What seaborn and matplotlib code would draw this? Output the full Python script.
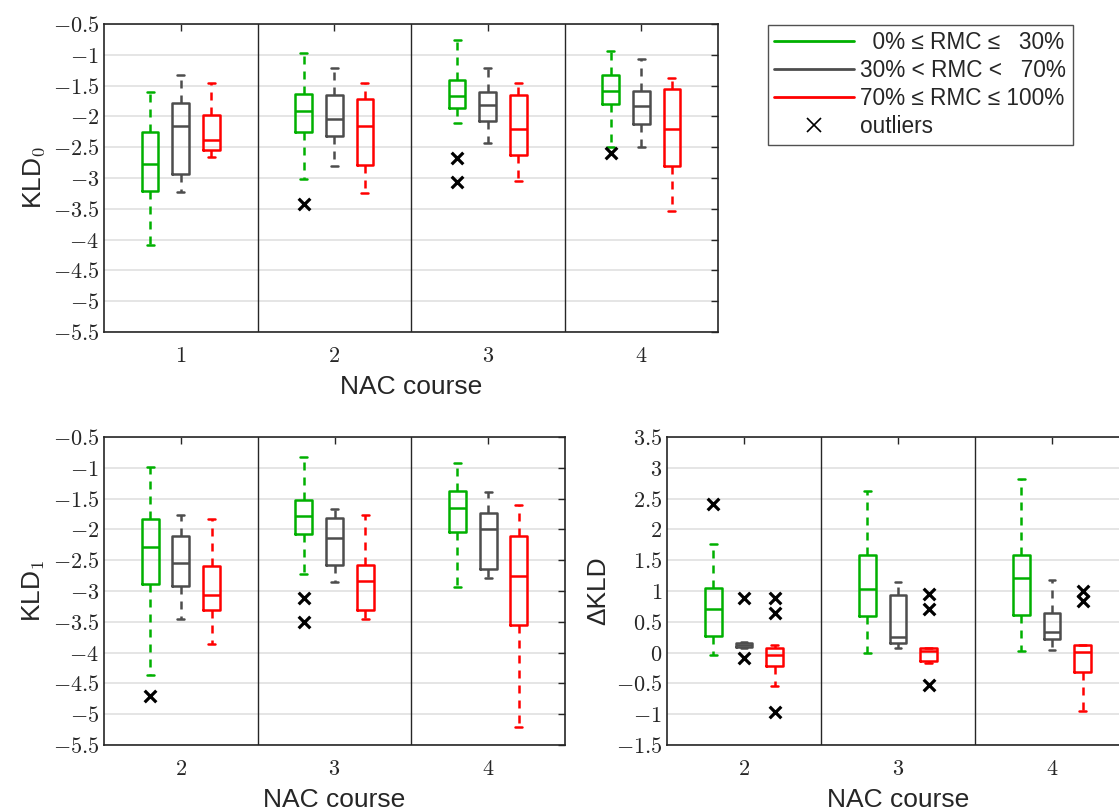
import numpy as np
import pandas as pd
import matplotlib
matplotlib.use("Agg")
import matplotlib.pyplot as plt
import seaborn as sns
from matplotlib.lines import Line2D

# RMC groups and their colours
groups = ["  0% \u2264 RMC \u2264   30%", "30% < RMC <   70%", "70% \u2264 RMC \u2264 100%"]
colors = ["#00b000", "#4d4d4d", "#ff0000"]

courses_top = [1, 2, 3, 4]
courses_bottom = [2, 3, 4]

# five-number summaries per course: [lower whisker, Q1, median, Q3, upper whisker]
kld0_low = [[-4.09, -3.21, -2.77, -2.25, -1.60],
            [-3.01, -2.26, -1.92, -1.63, -0.97],
            [-2.10, -1.86, -1.67, -1.41, -0.76],
            [-2.50, -1.80, -1.59, -1.32, -0.94]]
kld0_mid = [[-3.22, -2.94, -2.16, -1.79, -1.32],
            [-2.80, -2.32, -2.04, -1.66, -1.21],
            [-2.43, -2.07, -1.81, -1.61, -1.21],
            [-2.49, -2.13, -1.83, -1.58, -1.07]]
kld0_high = [[-2.66, -2.55, -2.38, -1.98, -1.46],
             [-3.24, -2.79, -2.15, -1.72, -1.46],
             [-3.05, -2.62, -2.20, -1.66, -1.45],
             [-3.53, -2.80, -2.20, -1.55, -1.38]]
kld0_out_course = [2, 3, 3, 4]
kld0_out_group = [0, 0, 0, 0]
kld0_out_value = [-3.43, -2.68, -3.07, -2.59]

kld1_low = [[-4.36, -2.89, -2.29, -1.83, -0.99],
            [-2.72, -2.07, -1.79, -1.52, -0.82],
            [-2.94, -2.05, -1.65, -1.37, -0.93]]
kld1_mid = [[-3.45, -2.92, -2.55, -2.10, -1.76],
            [-2.85, -2.58, -2.14, -1.82, -1.67],
            [-2.79, -2.65, -1.99, -1.74, -1.40]]
kld1_high = [[-3.86, -3.31, -3.07, -2.60, -1.83],
             [-3.46, -3.31, -2.84, -2.58, -1.76],
             [-5.20, -3.56, -2.75, -2.11, -1.60]]
kld1_out_course = [2, 3, 3]
kld1_out_group = [0, 0, 0]
kld1_out_value = [-4.71, -3.12, -3.51]

dkld_low = [[-0.04, 0.27, 0.71, 1.05, 1.76],
            [-0.01, 0.60, 1.04, 1.58, 2.62],
            [0.03, 0.61, 1.21, 1.59, 2.82]]
dkld_mid = [[0.07, 0.09, 0.12, 0.15, 0.17],
            [0.07, 0.15, 0.25, 0.93, 1.15],
            [0.05, 0.22, 0.34, 0.64, 1.18]]
dkld_high = [[-0.54, -0.22, -0.04, 0.07, 0.12],
             [-0.17, -0.14, 0.03, 0.07, 0.07],
             [-0.94, -0.32, 0.01, 0.13, 0.13]]
dkld_out_course = [2, 2, 2, 2, 2, 2, 3, 3, 3, 4, 4]
dkld_out_group = [0, 1, 1, 2, 2, 2, 2, 2, 2, 2, 2]
dkld_out_value = [2.41, 0.88, -0.08, 0.88, 0.65, -0.97, 0.95, 0.71, -0.52, 1.00, 0.84]

kld_ticks = np.arange(-5.5, -0.49, 0.5)
dkld_ticks = np.arange(-1.5, 3.51, 0.5)

sns.set_style("white")
plt.rcParams["font.family"] = ["Liberation Sans", "DejaVu Sans"]
plt.rcParams["mathtext.fontset"] = "cm"

BOX_SPAN = 0.6
EDGE = "#262626"


def long_table(courses, summaries):
    rows = []
    for g, per_course in zip(groups, summaries):
        for c, five in zip(courses, per_course):
            for v in five:
                rows.append((c, g, v))
    return pd.DataFrame(rows, columns=["course", "group", "value"])


def draw_panel(ax, courses, summaries, out_course, out_group, out_value, yticks, ylabel):
    df = long_table(courses, summaries)
    sns.boxplot(data=df, x="course", y="value", hue="group", hue_order=groups,
                palette=colors, native_scale=True, width=BOX_SPAN, gap=0.45,
                fill=False, whis=(0, 100), showfliers=False, linewidth=1.8,
                whiskerprops={"linestyle": (0, (3.2, 2.8))},
                capwidths=0.045, legend=False, ax=ax)
    # outliers sit on the dodged slot of their group
    slot = BOX_SPAN / len(groups)
    xs = [c + (g - 1) * slot for c, g in zip(out_course, out_group)]
    sns.scatterplot(x=xs, y=out_value, marker="x", color="black", s=70,
                    linewidth=2.3, legend=False, zorder=5, ax=ax)

    for b in np.arange(courses[0] + 0.5, courses[-1], 1.0):
        ax.axvline(b, color=EDGE, lw=1.0, zorder=1)
    ax.set_xlim(courses[0] - 0.5, courses[-1] + 0.5)
    ax.set_ylim(yticks[0], yticks[-1])
    ax.set_xticks(courses)
    ax.set_xticklabels([f"${c}$" for c in courses])
    ax.set_yticks(yticks)
    ax.set_yticklabels([f"${t:g}$" for t in yticks])
    ax.yaxis.grid(True, color="#e3e3e3", lw=1.3)
    ax.set_axisbelow(True)
    ax.tick_params(direction="in", top=True, right=True, length=5, width=1,
                   color=EDGE, labelsize=16)
    ax.tick_params(axis="x", pad=10)
    for s in ax.spines.values():
        s.set_color(EDGE)
        s.set_linewidth(1.2)
    ax.set_xlabel("NAC course", fontsize=19, labelpad=6)
    ax.set_ylabel(ylabel, fontsize=19)


fig = plt.figure(figsize=(11.19, 8.10), dpi=100)
W, H = 1119, 810
ax0 = fig.add_axes([104 / W, 1 - 332 / H, 614 / W, 308 / H])
ax1 = fig.add_axes([104 / W, 1 - 745 / H, 461 / W, 308 / H])
ax2 = fig.add_axes([667 / W, 1 - 745 / H, 462 / W, 308 / H])

draw_panel(ax0, courses_top, [kld0_low, kld0_mid, kld0_high],
           kld0_out_course, kld0_out_group, kld0_out_value, kld_ticks, r"KLD$_{\mathsf{0}}$")
draw_panel(ax1, courses_bottom, [kld1_low, kld1_mid, kld1_high],
           kld1_out_course, kld1_out_group, kld1_out_value, kld_ticks, r"KLD$_{\mathsf{1}}$")
draw_panel(ax2, courses_bottom, [dkld_low, dkld_mid, dkld_high],
           dkld_out_course, dkld_out_group, dkld_out_value, dkld_ticks, "\u0394KLD")

handles = [Line2D([], [], color=c, lw=2) for c in colors]
handles.append(Line2D([], [], ls="none", marker="x", color="black", markersize=10, mew=1.2))
leg = fig.legend(handles, groups + ["outliers"], loc="upper left",
                 bbox_to_anchor=(768 / W, 1 - 25 / H), frameon=True, fancybox=False,
                 edgecolor=EDGE, fontsize=16.3, handlelength=3.5, handletextpad=0.3,
                 labelspacing=0.22, borderaxespad=0, borderpad=0.28)
leg.get_frame().set_linewidth(1.0)

fig.savefig("out.png", dpi=100)
